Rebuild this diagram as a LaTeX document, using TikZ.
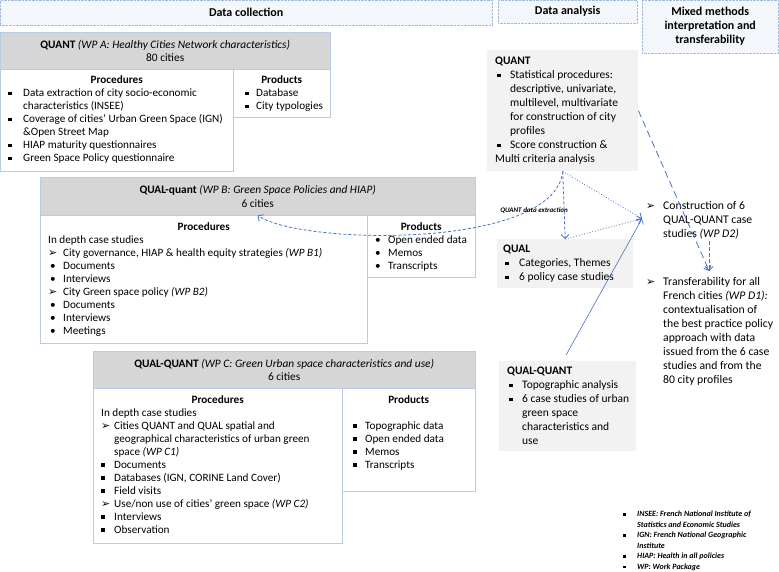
\documentclass[tikz,border=0pt]{standalone}
\usepackage{fontspec}
\setmainfont{Carlito}
\newfontfamily\dejavu{DejaVu Sans}
\usepackage{tikz}
\usetikzlibrary{arrows.meta}
\definecolor{lnblue}{RGB}{68,114,196}
\definecolor{boxline}{RGB}{184,204,228}
\definecolor{hdgray}{RGB}{214,214,214}
\definecolor{angray}{RGB}{242,242,242}
\definecolor{colfill}{RGB}{243,246,251}
\definecolor{colline}{RGB}{160,185,225}
\newlength{\bind}
\newlength{\tind}
\newcommand{\sqb}{\rule[0.12em]{0.3em}{0.3em}}
\newcommand{\rdb}{\hspace{2pt}\textbullet}
\newcommand{\arh}{{\dejavu\fontsize{11}{11}\selectfont ➢}}
\newcommand{\bitem}[1]{\par\noindent\hangindent=\tind\hangafter=1\makebox[\tind][l]{\hspace{\bind}#1}\ignorespaces}
\newcommand{\plainln}[1]{\par\noindent\hspace*{#1pt}\ignorespaces}
\newcommand{\cellbox}[6]{\parbox[t][#2pt][t]{#1pt}{\setlength{\bind}{#4pt}\setlength{\tind}{#5pt}\raggedright\vspace*{#3pt}#6\par}}
\begin{document}
\begin{tikzpicture}[x=1pt,y=-1pt,
  colhd/.style={anchor=north west, draw=colline, densely dotted, fill=colfill, inner sep=0pt, align=center, font=\fontsize{12}{14}\selectfont\bfseries},
  hdr/.style={anchor=north west, draw=boxline, fill=hdgray, inner sep=0pt, align=center, font=\fontsize{11.4}{13.5}\selectfont},
  pbox/.style={anchor=north west, draw=boxline, fill=white, inner sep=0pt, font=\fontsize{11.2}{13}\selectfont},
  abox/.style={anchor=north west, fill=angray, inner sep=0pt, font=\fontsize{11.5}{14}\selectfont},
  tbox/.style={anchor=north west, inner sep=0pt, font=\fontsize{11.7}{14}\selectfont},
  flow/.style={draw=lnblue, line width=0.8pt, -{Straight Barb[length=4pt,width=8pt]}}]
\useasboundingbox (0,0) rectangle (779,571);
% column heads
\node (colDC) at (0,0)[colhd, minimum width=492pt, minimum height=25pt] {Data collection};
\node (colDA) at (498,0)[colhd, minimum width=139pt, minimum height=23pt] {Data analysis};
\node (colMM) at (642,0)[colhd, minimum width=136pt, minimum height=53pt] {Mixed methods\\interpretation and\\transferability};
% WP A
\node (hdrA) at (0,32)[hdr, minimum width=330pt, minimum height=37pt] {\textbf{QUANT} \textit{(WP A: Healthy Cities Network characteristics)}\\80 cities};
\node (procA) at (0,69)[pbox] {\cellbox{233}{102}{6.4}{8}{23}{\centerline{\textbf{Procedures}}
  \bitem{\sqb}Data extraction of city socio-economic\newline characteristics (INSEE)
  \bitem{\sqb}Coverage of cities' Urban Green Space (IGN)\newline \&Open Street Map
  \bitem{\sqb}HIAP maturity questionnaires
  \bitem{\sqb}Green Space Policy questionnaire}};
\node (prodA) at (233,69)[pbox] {\cellbox{97}{48}{6.4}{12}{23}{\centerline{\textbf{Products}}
  \bitem{\sqb}Database
  \bitem{\sqb}City typologies}};
% WP B
\node (hdrB) at (40,177)[hdr, minimum width=435pt, minimum height=38pt] {\textbf{QUAL-quant} \textit{(WP B: Green Space Policies and HIAP)}\\6 cities};
\node (procB) at (40,215)[pbox] {\cellbox{327}{128}{7.4}{8}{23}{\centerline{\textbf{Procedures}}
  \plainln{8}In depth case studies
  \bitem{\arh}City governance, HIAP \& health equity strategies \textit{(WP B1)}
  \bitem{\rdb}Documents
  \bitem{\rdb}Interviews
  \bitem{\arh}City Green space policy \textit{(WP B2)}
  \bitem{\rdb}Documents
  \bitem{\rdb}Interviews
  \bitem{\rdb}Meetings}};
\node (prodB) at (367,215)[pbox] {\cellbox{108}{62}{7.4}{6}{21}{\centerline{\textbf{Products}}
  \bitem{\rdb}Open ended data
  \bitem{\rdb}Memos
  \bitem{\rdb}Transcripts}};
% WP C
\node (hdrC) at (93,351)[hdr, minimum width=382pt, minimum height=37pt] {\textbf{QUAL-QUANT} \textit{(WP C: Green Urban space characteristics and use)}\\6 cities};
\node (procC) at (93,388)[pbox] {\cellbox{249}{155}{7.1}{8}{21}{\centerline{\textbf{Procedures}}
  \plainln{8}In depth case studies
  \bitem{\arh}Cities QUANT and QUAL spatial and\newline geographical characteristics of urban green\newline space \textit{(WP C1)}
  \bitem{\sqb}Documents
  \bitem{\sqb}Databases (IGN, CORINE Land Cover)
  \bitem{\sqb}Field visits
  \bitem{\arh}Use/non use of cities' green space \textit{(WP C2)}
  \bitem{\sqb}Interviews
  \bitem{\sqb}Observation}};
\node (prodC) at (342,388)[pbox] {\cellbox{133}{103}{7.1}{11}{23}{\centerline{\textbf{Products}}\null
  \bitem{\sqb}Topographic data
  \bitem{\sqb}Open ended data
  \bitem{\sqb}Memos
  \bitem{\sqb}Transcripts}};
% data analysis
\node (anQuant) at (487,50)[abox] {\cellbox{151}{121}{7}{10}{23}{\plainln{8}\textbf{QUANT}
  \bitem{\sqb}Statistical procedures:\newline descriptive, univariate,\newline multilevel, multivariate\newline for construction of city\newline profiles
  \bitem{\sqb}Score construction \&
  \plainln{8}Multi criteria analysis}};
\node (anQual) at (497,239)[abox] {\cellbox{136}{49}{6}{8}{22}{\plainln{6}\textbf{QUAL}
  \bitem{\sqb}Categories, Themes
  \bitem{\sqb}6 policy case studies}};
\node (anQQ) at (499,361)[abox] {\cellbox{137}{90}{6}{10}{23}{\plainln{8}\textbf{QUAL-QUANT}
  \bitem{\sqb}Topographic analysis
  \bitem{\sqb}6 case studies of urban\newline green space\newline characteristics and\newline use}};
% mixed methods
\node (cons) at (642,196)[tbox] {\cellbox{134}{45}{5}{4}{21}{\bitem{\arh}Construction of 6\newline QUAL-QUANT case\newline studies \textit{(WP D2)}}};
\node (trans) at (642,271)[tbox] {\cellbox{134}{120}{6}{4}{21}{\bitem{\arh}Transferability for all\newline French cities \textit{(WP D1):}\newline contextualisation of\newline the best practice policy\newline approach with data\newline issued from the 6 case\newline studies and from the\newline 80 city profiles}};
% abbreviations
\node (notes) at (618,508)[tbox, font=\fontsize{8}{10.5}\selectfont\bfseries\itshape] {\cellbox{161}{63}{2.7}{5}{19}{\bitem{\sqb}INSEE: French National Institute of\newline Statistics and Economic Studies
  \bitem{\sqb}IGN: French National Geographic\newline Institute
  \bitem{\sqb}HIAP: Health in all policies
  \bitem{\sqb}WP: Work Package}};
% arrows
\draw[flow, densely dashed] (anQuant.south) .. controls (555,250) and (300,245) .. (hdrB.south);
\node (lblExt) at (534,210)[font=\fontsize{7}{8}\selectfont\bfseries\itshape] {QUANT data extraction};
\draw[flow, dash pattern=on 3pt off 2pt] (anQuant.south) -- (anQual.north);
\draw[flow, dotted] (anQuant.south) -- (cons.west);
\draw[flow, dotted] (anQual.north) -- (cons.west);
\draw[flow, line width=0.6pt, shorten <=7pt] ([xshift=-5pt]anQQ.north) -- (cons.west);
\draw[flow, dash pattern=on 7pt off 4pt] (anQuant.east) -- (trans.north);
\draw[flow, dash pattern=on 4pt off 2pt] (cons.south) -- (trans.north);
\end{tikzpicture}
\end{document}
